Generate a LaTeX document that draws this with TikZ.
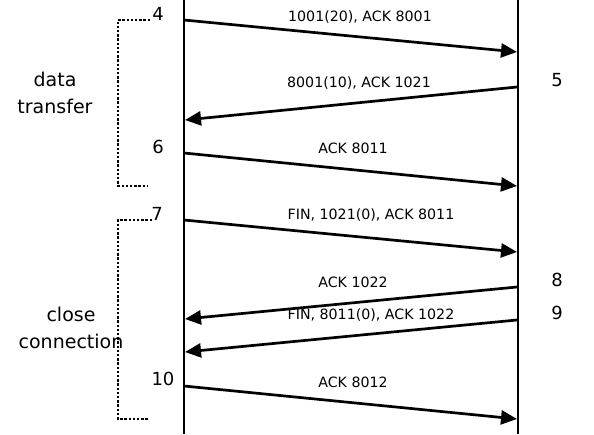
\documentclass[tikz,border=0pt]{standalone}
\usepackage{fontspec}
\setmainfont{DejaVu Sans}
\usetikzlibrary{arrows.meta}
\tikzset{
  lifeline/.style={line width=2.8pt},
  msg/.style={line width=2.7pt,-{Triangle[length=16pt,width=14pt]}},
  msglabel/.style={inner sep=0pt,font=\fontsize{14.2}{17}\selectfont},
  stepnum/.style={inner sep=0pt,font=\fontsize{18}{22}\selectfont},
  phase/.style={inner sep=0pt,align=center,font=\fontsize{19}{27.5}\selectfont},
  bracket/.style={line width=2.6pt,dash pattern=on 2.4pt off 1.8pt},
}
\begin{document}
\begin{tikzpicture}[x=1pt,y=-1pt]
\useasboundingbox (0,0) rectangle (594,434);
% lifelines
\coordinate (Ltop) at (184,0);
\coordinate (Lbot) at (184,434);
\coordinate (Rtop) at (518,0);
\coordinate (Rbot) at (518,434);
\draw[lifeline] (Ltop) -- (Lbot);
\draw[lifeline] (Rtop) -- (Rbot);
% message endpoints
\coordinate (a1) at (184,20);  \coordinate (b1) at (517,52);
\coordinate (a2) at (517,87);  \coordinate (b2) at (185,120);
\coordinate (a3) at (184,153); \coordinate (b3) at (517,186);
\coordinate (a4) at (184,220); \coordinate (b4) at (517,252);
\coordinate (a5) at (517,287); \coordinate (b5) at (185,319);
\coordinate (a6) at (517,320); \coordinate (b6) at (185,352);
\coordinate (a7) at (184,386); \coordinate (b7) at (517,419);
\draw[msg] (a1) -- (b1);
\draw[msg] (a2) -- (b2);
\draw[msg] (a3) -- (b3);
\draw[msg] (a4) -- (b4);
\draw[msg] (a5) -- (b5);
\draw[msg] (a6) -- (b6);
\draw[msg] (a7) -- (b7);
% message labels
\node[msglabel] (m1) at (360,17)  {1001(20), ACK 8001};
\node[msglabel] (m2) at (359,83)  {8001(10), ACK 1021};
\node[msglabel] (m3) at (353,148) {ACK 8011};
\node[msglabel] (m4) at (371,215) {FIN, 1021(0), ACK 8011};
\node[msglabel] (m5) at (353,282) {ACK 1022};
\node[msglabel] (m6) at (371,315) {FIN, 8011(0), ACK 1022};
\node[msglabel] (m7) at (353,382) {ACK 8012};
% step numbers
\node[stepnum] (n4)  at (158,14)  {4};
\node[stepnum] (n5)  at (557,80)  {5};
\node[stepnum] (n6)  at (158,147) {6};
\node[stepnum] (n7)  at (157,214) {7};
\node[stepnum] (n8)  at (557,280) {8};
\node[stepnum] (n9)  at (557,313) {9};
\node[stepnum] (n10) at (163,379) {10};
% brackets
\coordinate (d1) at (150,20);  \coordinate (d2) at (118,20);
\coordinate (d3) at (118,186); \coordinate (d4) at (148,186);
\draw[bracket] (d1) -- (d2) -- (d3) -- (d4);
\coordinate (c1) at (152,220); \coordinate (c2) at (118,220);
\coordinate (c3) at (118,419); \coordinate (c4) at (148,419);
\draw[bracket] (c1) -- (c2) -- (c3) -- (c4);
% phase labels
\node[phase] (dt) at (55,93)  {data\\transfer};
\node[phase] (cc) at (71,328) {close\\connection};
\end{tikzpicture}
\end{document}
